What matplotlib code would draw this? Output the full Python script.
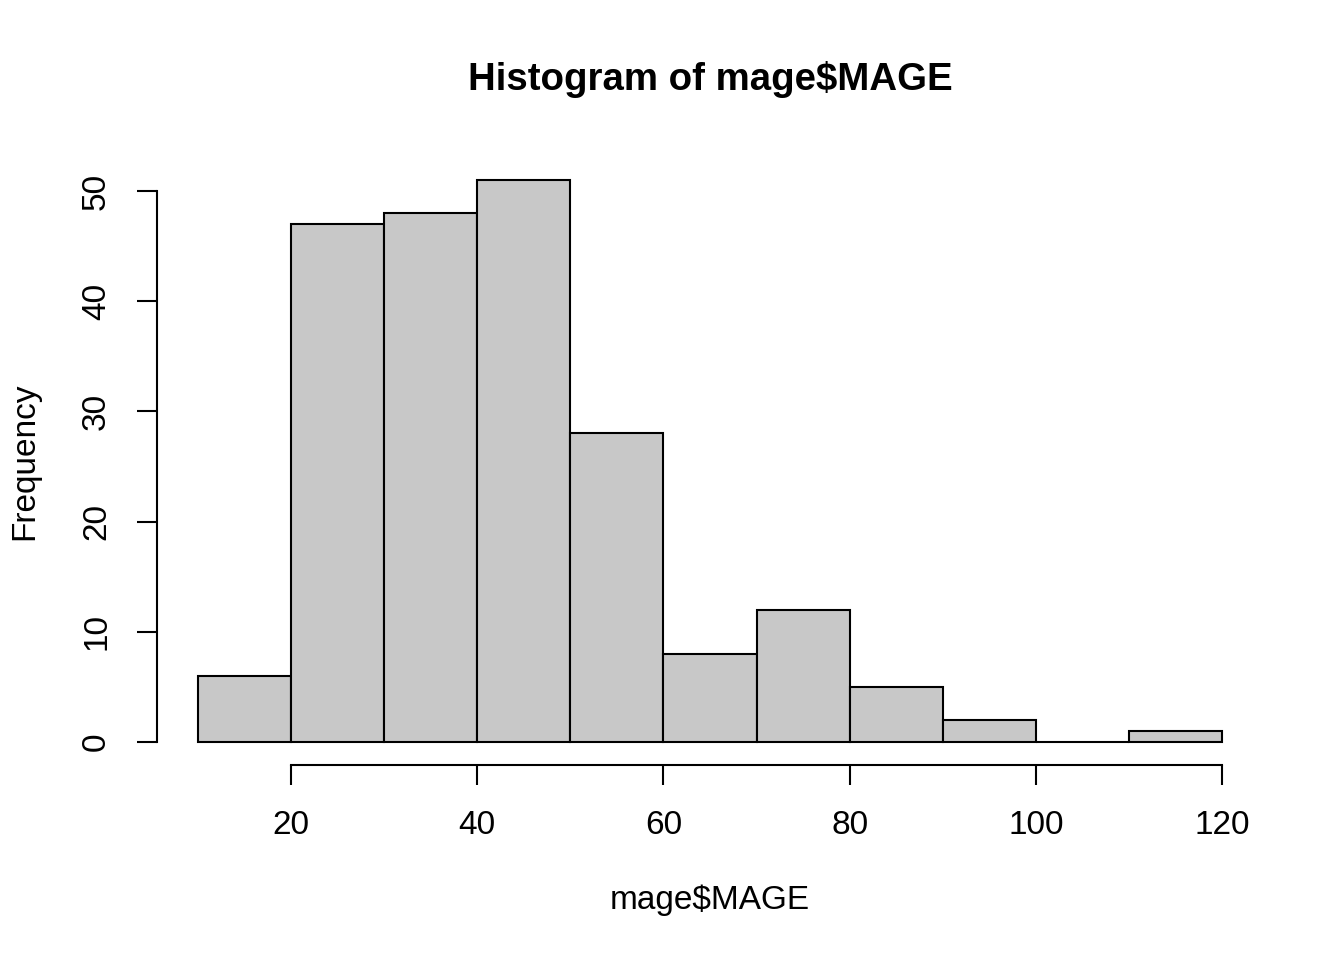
import matplotlib
matplotlib.use("Agg")
import matplotlib.pyplot as plt
import numpy as np

# histogram bins and counts
breaks = [10, 20, 30, 40, 50, 60, 70, 80, 90, 100, 110, 120]
counts = [6, 47, 48, 51, 28, 8, 12, 5, 2, 0, 1]
xticks = [20, 40, 60, 80, 100, 120]
yticks = [0, 10, 20, 30, 40, 50]

plt.rcParams["font.family"] = ["Liberation Sans", "DejaVu Sans"]

fig = plt.figure(figsize=(6.72, 4.8), dpi=200)
ax = fig.add_axes([157 / 1344, 1 - 764.5 / 960, (1263 - 157) / 1344, (764.5 - 157.5) / 960])

left = np.array(breaks[:-1])
widths = np.diff(breaks)
ax.bar(left, counts, width=widths, align="edge", color="#C8C8C8",
       edgecolor="black", linewidth=0.75)

# R style axis limits (4% extension)
span = breaks[-1] - breaks[0]
ax.set_xlim(breaks[0] - 0.04 * span, breaks[-1] + 0.04 * span)
ymax = max(counts)
ax.set_ylim(-0.04 * ymax, ymax * 1.04)

for s in ["top", "right"]:
    ax.spines[s].set_visible(False)
ax.spines["left"].set_bounds(yticks[0], yticks[-1])
ax.spines["bottom"].set_bounds(xticks[0], xticks[-1])
ax.spines["left"].set_linewidth(0.75)
ax.spines["bottom"].set_linewidth(0.75)

ax.set_xticks(xticks)
ax.set_yticks(yticks)
ax.set_yticklabels([str(v) for v in yticks], rotation=90, va="center")
ax.tick_params(axis="both", length=7.2, width=0.75, labelsize=12)
ax.tick_params(axis="x", pad=9)
ax.tick_params(axis="y", pad=9)

fig.text(710 / 1344, 1 - 80 / 960, r"Histogram of mage\$MAGE", ha="center",
         va="center", fontsize=13.8, fontweight="bold")
fig.text(710 / 1344, 1 - 900 / 960, r"mage\$MAGE", ha="center", va="center", fontsize=12)
fig.text(25 / 1344, 1 - 461 / 960, "Frequency", ha="center", va="center",
         rotation=90, fontsize=12)

fig.savefig("out.png", dpi=200)
